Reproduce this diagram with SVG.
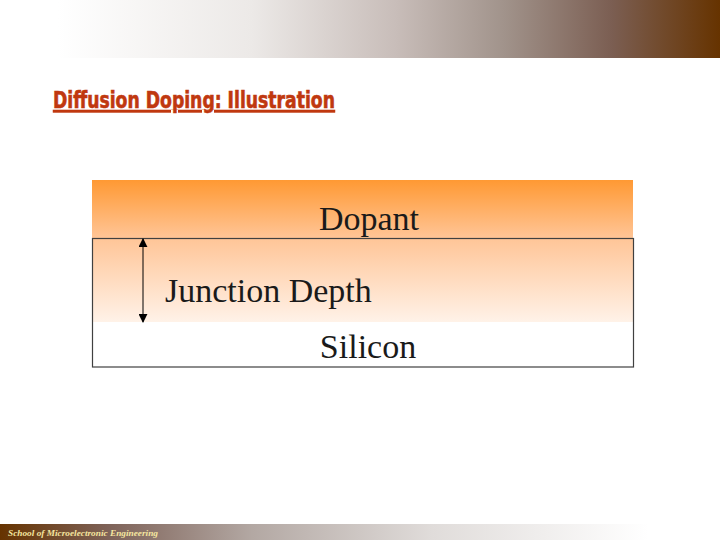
<svg xmlns="http://www.w3.org/2000/svg" width="720" height="540" viewBox="0 0 720 540">
<defs>
<linearGradient id="topbar" x1="0" y1="0" x2="1" y2="0">
<stop offset="0" stop-color="#ffffff"/>
<stop offset="0.08" stop-color="#ffffff"/>
<stop offset="0.35" stop-color="#ece9e7"/>
<stop offset="0.55" stop-color="#c8bdb9"/>
<stop offset="0.7" stop-color="#a1938b"/>
<stop offset="0.85" stop-color="#7b5e52"/>
<stop offset="1" stop-color="#663300"/>
</linearGradient>
<linearGradient id="botbar" x1="0" y1="0" x2="1" y2="0">
<stop offset="0" stop-color="#663300"/>
<stop offset="0.15" stop-color="#7e6258"/>
<stop offset="0.35" stop-color="#b3a8a3"/>
<stop offset="0.6" stop-color="#e0dcda"/>
<stop offset="0.9" stop-color="#ffffff"/>
<stop offset="1" stop-color="#ffffff"/>
</linearGradient>
<linearGradient id="dope" x1="0" y1="180" x2="0" y2="322" gradientUnits="userSpaceOnUse">
<stop offset="0" stop-color="#ff9933"/>
<stop offset="0.41" stop-color="#ffc597"/>
<stop offset="1" stop-color="#fff2e8"/>
</linearGradient>
<marker id="ah" viewBox="0 0 10 10" refX="9" refY="5" markerWidth="9" markerHeight="9" markerUnits="userSpaceOnUse" orient="auto">
<path d="M0,0 L10,5 L0,10 Z" fill="#000"/>
</marker>
<style>
.lbl{font-family:"Liberation Serif","Times New Roman",serif;font-size:34px;fill:#1a1a1a}
</style>
</defs>
<rect x="0" y="0" width="720" height="540" fill="#fff"/>
<rect x="0" y="0" width="720" height="58" fill="url(#topbar)"/>
<rect x="0" y="524" width="720" height="16" fill="url(#botbar)"/>
<text x="8" y="536" font-family="Liberation Serif, serif" font-style="italic" font-weight="bold" font-size="9" fill="#f5e6a0" textLength="150" lengthAdjust="spacingAndGlyphs">School of Microelectronic Engineering</text>
<text x="53" y="108" font-family="DejaVu Sans Condensed, DejaVu Sans, sans-serif" font-weight="bold" font-size="23" fill="#c0380f" stroke="#c0380f" stroke-width="0.6" text-decoration="underline" textLength="282" lengthAdjust="spacingAndGlyphs">Diffusion Doping: Illustration</text>
<g id="dopant">
<rect x="92" y="180" width="541" height="142" fill="url(#dope)"/>
<text class="lbl" x="369" y="230" text-anchor="middle">Dopant</text>
</g>
<g id="silicon">
<rect x="92.5" y="238.5" width="541" height="128.5" fill="none" stroke="#404040" stroke-width="1.2"/>
<text class="lbl" x="368" y="358" text-anchor="middle">Silicon</text>
</g>
<g id="junction">
<text class="lbl" x="165" y="302">Junction Depth</text>
</g>
<g id="connectors">
<line x1="143" y1="280" x2="143" y2="239" stroke="#000" stroke-width="1" marker-end="url(#ah)"/>
<line x1="143" y1="280" x2="143" y2="322" stroke="#000" stroke-width="1" marker-end="url(#ah)"/>
</g>
</svg>
